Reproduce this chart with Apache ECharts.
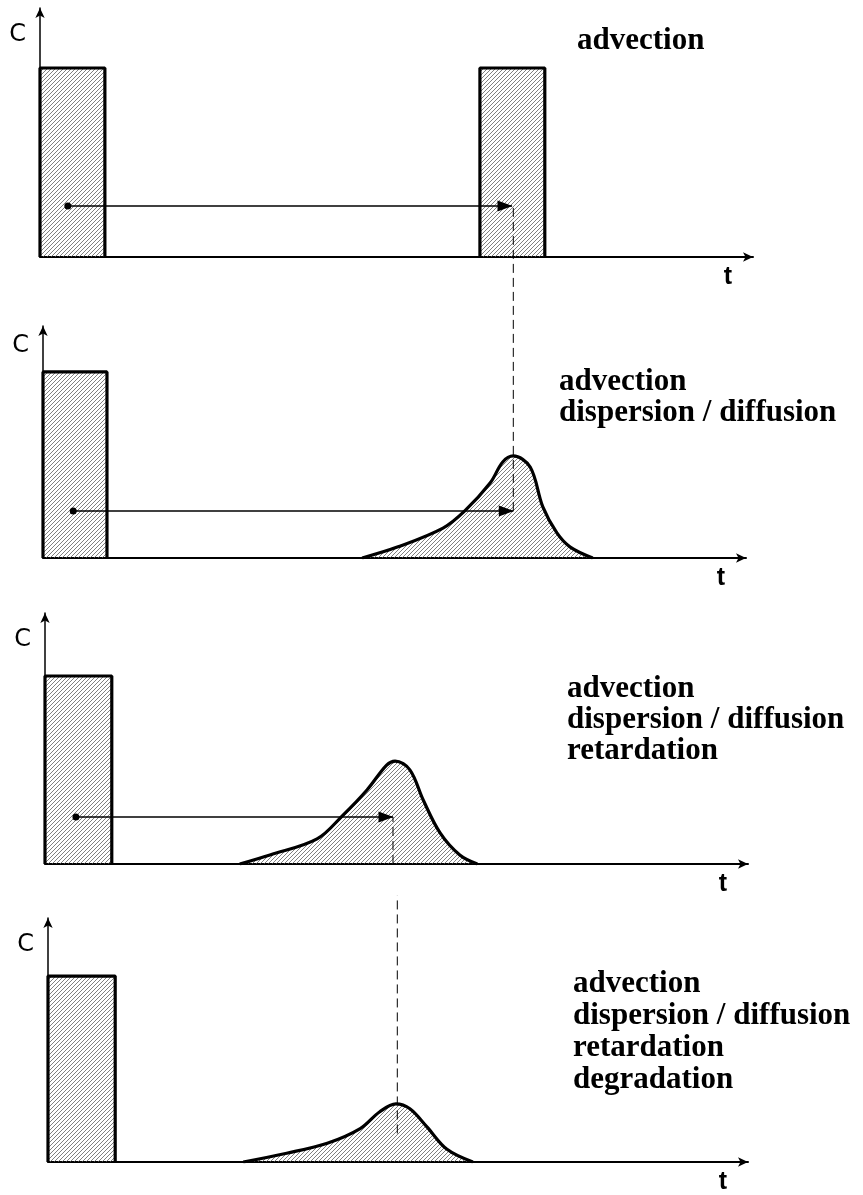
<!DOCTYPE html>
<html>
<head>
<meta charset="utf-8">
<script src="https://cdn.jsdelivr.net/npm/echarts@6/dist/echarts.min.js"></script>
<style>
html, body { margin: 0; padding: 0; background: #fff; }
#chart { width: 863px; height: 1195px; }
</style>
</head>
<body>
<div id="chart"></div>
<script>
// process labels, one per panel
var panelLabels = [
    'advection',
    'advection\ndispersion / diffusion',
    'advection\ndispersion / diffusion\nretardation',
    'advection\ndispersion / diffusion\nretardation\ndegradation'
]
// injected pulse per panel: [t start, t end, c]
var pulseIn = [[0, 9.1, 75.9], [0, 9.1, 80.2], [0, 9.5, 74.9], [0, 9.6, 76.2]]
// pulse arriving unchanged (advection only)
var pulseOut = [61.7, 70.8, 75.9]
// breakthrough curves [t, c]
var curveDisp = [[45.4, 0], [50.4, 4.7], [56.9, 12.9], [60.0, 20.3], [63.6, 32.3], [65.4, 41.4], [66.9, 44.0],
    [69.3, 39.2], [71.1, 22.0], [73.1, 10.8], [75.0, 4.7], [78.2, 0]]
var curveRetard = [[27.7, 0], [32.0, 3.6], [38.7, 10.0], [42.4, 19.5], [45.8, 29.5], [48.6, 39.4], [49.8, 41.0],
    [51.9, 37.5], [53.8, 25.5], [56.2, 12.4], [59.0, 3.6], [61.5, 0]]
var curveDegrad = [[27.9, 0], [34.1, 3.6], [39.9, 7.7], [44.6, 13.7], [47.4, 20.6], [49.7, 23.8],
    [51.7, 21.8], [54.1, 14.5], [57.0, 5.2], [60.7, 0]]
// travel arrows: [t start, t end, c]
var travel = [[3.9, 66.2, 20.5], [4.3, 66.9, 20.3], [4.4, 49.5, 18.7]]
// dashed guides: [panel, t, c from, c to]
var guides = [[1, 66.9, 20.3, 152.2], [2, 49.5, 0, 18.7], [3, 49.9, 11.7, 109.3]]

// layout of the four panels
var grids = [
    {left: 40, top: 8, width: 713, height: 249},
    {left: 43, top: 326, width: 703, height: 232},
    {left: 45, top: 613, width: 703, height: 251},
    {left: 48, top: 918, width: 700, height: 249}
]
// label box: left, top, line height
var labelPos = [[577, 25, 31], [559, 366, 31], [567, 673, 31], [573, 968, 32]]

function makeHatch() {
    var c = document.createElement('canvas')
    c.width = 4
    c.height = 4
    var g = c.getContext('2d')
    g.strokeStyle = '#555'
    g.lineWidth = 0.75
    g.beginPath()
    g.moveTo(0, 4); g.lineTo(4, 0)
    g.moveTo(-1, 1); g.lineTo(1, -1)
    g.moveTo(3, 5); g.lineTo(5, 3)
    g.stroke()
    return {image: c, repeat: 'repeat'}
}
var hatch = makeHatch()

function box(p) {
    return [[p[0], 0], [p[0], p[2]], [p[1], p[2]], [p[1], 0]]
}

function shape(i, data, smooth) {
    return {
        type: 'line', xAxisIndex: i, yAxisIndex: i, data: data,
        smooth: smooth ? 0.35 : false, symbol: 'none', silent: true, z: 3,
        lineStyle: {color: '#000', width: 3.2},
        areaStyle: {color: hatch, opacity: 1}
    }
}

var series = []
pulseIn.forEach(function (p, i) { series.push(shape(i, box(p), false)) })
series.push(shape(0, box(pulseOut), false))
series.push(shape(1, curveDisp, true))
series.push(shape(2, curveRetard, true))
series.push(shape(3, curveDegrad, true))
travel.forEach(function (a, i) {
    series.push({
        type: 'line', xAxisIndex: i, yAxisIndex: i, silent: true, z: 5,
        lineStyle: {color: '#000', width: 1.5},
        data: [
            {value: [a[0], a[2]], symbol: 'circle', symbolSize: 7},
            {value: [a[1], a[2]], symbol: 'triangle', symbolSize: [11, 15], symbolRotate: -90, symbolOffset: [-7, 0]}
        ],
        itemStyle: {color: '#000'}
    })
})
guides.forEach(function (d) {
    series.push({
        type: 'line', xAxisIndex: d[0], yAxisIndex: d[0], silent: true, clip: false, z: 4,
        symbol: 'none',
        lineStyle: {color: '#000', width: 1, type: [9, 5]},
        data: [[d[1], d[2]], [d[1], d[3]]]
    })
})

var xAxes = [], yAxes = []
grids.forEach(function (g, i) {
    xAxes.push({
        type: 'value', gridIndex: i, min: 0, max: 100,
        axisLine: {show: true, onZero: false, symbol: ['none', 'arrow'], symbolSize: [7, 10], lineStyle: {color: '#000', width: 2}},
        axisTick: {show: false}, axisLabel: {show: false}, splitLine: {show: false},
        name: 't', nameLocation: 'end', nameGap: -25,
        nameTextStyle: {fontFamily: 'Liberation Sans', fontWeight: 'bold', fontSize: 25, color: '#000',
            align: 'center', verticalAlign: 'top', padding: [8, 0, 0, 0]}
    })
    yAxes.push({
        type: 'value', gridIndex: i, min: 0, max: 100,
        axisLine: {show: true, onZero: false, symbol: ['none', 'arrow'], symbolSize: [7, 10], lineStyle: {color: '#000', width: 1.5}},
        axisTick: {show: false}, axisLabel: {show: false}, splitLine: {show: false},
        name: 'C', nameLocation: 'end', nameGap: i == 1 ? -20 : -27,
        nameTextStyle: {fontFamily: 'DejaVu Sans', fontSize: 24, color: '#000',
            align: 'right', verticalAlign: 'middle', padding: [0, 14, 0, 0]}
    })
})

var myChart = echarts.init(document.getElementById('chart'), null, {renderer: 'canvas'})
myChart.setOption({
    animation: false,
    backgroundColor: '#fff',
    title: panelLabels.map(function (t, i) {
        return {
            text: t, left: labelPos[i][0], top: labelPos[i][1], padding: 0,
            textStyle: {fontFamily: 'Liberation Serif', fontWeight: 'bold', fontSize: 31,
                lineHeight: labelPos[i][2], color: '#000'}
        }
    }),
    grid: grids,
    xAxis: xAxes,
    yAxis: yAxes,
    series: series
})
</script>
</body>
</html>
